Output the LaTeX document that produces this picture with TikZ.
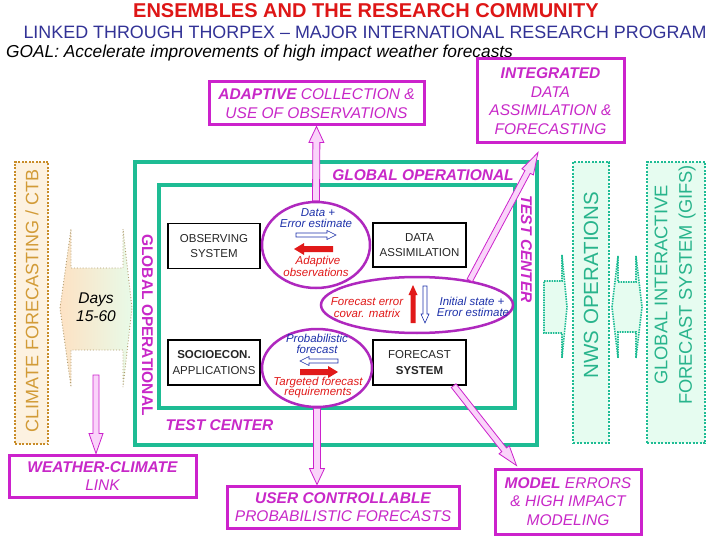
\documentclass[tikz,border=0pt]{standalone}
\usepackage{fontspec}
\setmainfont{Liberation Sans}
\usetikzlibrary{calc,shapes.geometric}

\definecolor{titlered}{RGB}{222,22,22}
\definecolor{subblue}{RGB}{50,50,150}
\definecolor{mag}{RGB}{204,34,204}
\definecolor{magtext}{RGB}{200,40,200}
\definecolor{ellmag}{RGB}{175,40,190}
\definecolor{tealc}{RGB}{30,188,148}
\definecolor{tealtext}{RGB}{40,180,140}
\definecolor{palegreen}{RGB}{230,252,240}
\definecolor{climtext}{RGB}{210,155,55}
\definecolor{climborder}{RGB}{200,140,40}
\definecolor{climfill}{RGB}{253,242,225}
\definecolor{pinkfill}{RGB}{250,212,250}
\definecolor{bluet}{RGB}{30,50,170}
\definecolor{redt}{RGB}{225,25,25}
\definecolor{peach}{RGB}{253,226,196}
\definecolor{mint}{RGB}{232,250,232}
\definecolor{daysline}{RGB}{175,155,110}

\newcommand\fsz[2]{\fontsize{#1}{#2}\selectfont}
% fat arrow polygon: #1 style, #2 from, #3 to, #4 shaft half width, #5 head half width, #6 head length
\newcommand\fatarrow[6]{%
  \path (#3) coordinate (fat) (#2) coordinate (fas);
  \path ($(fat)!#6pt!(fas)$) coordinate (fah);
  \path[#1] ($(fas)!#4pt!90:(fat)$) -- ($(fah)!#4pt!-90:(fas)$) -- ($(fah)!#5pt!-90:(fas)$)
    -- (fat) -- ($(fah)!#5pt!90:(fas)$) -- ($(fah)!#4pt!90:(fas)$) -- ($(fas)!#4pt!-90:(fat)$) -- cycle;
}

\tikzset{
  magbox/.style={draw=mag, line width=3pt, fill=white, text=magtext, font=\itshape\fsz{15.5}{18.5}, align=center, inner sep=0pt},
  blkbox/.style={draw=black, line width=1.3pt, fill=white, text=black!85, font=\fsz{11.5}{15.5}, align=center, inner sep=0pt, minimum width=92pt, minimum height=45pt},
  ell/.style={ellipse, draw=ellmag, line width=2.5pt, inner sep=0pt},
  bluelbl/.style={text=bluet, font=\itshape\fsz{11.5}{12}, inner sep=0pt},
  redlbl/.style={text=redt, font=\itshape\fsz{11.5}{12}, inner sep=0pt},
  fatmag/.style={draw=mag, line width=0.8pt, fill=pinkfill},
  hollowarr/.style={draw=bluet, fill=white, line width=0.6pt},
  solidred/.style={fill=redt, draw=none},
  framelbl/.style={text=magtext, font=\bfseries\itshape\fsz{15.5}{18}, inner sep=0pt},
  tealframe/.style={draw=tealc, line width=4pt},
  dotbox/.style={dash pattern=on 2pt off 1.5pt, line width=2pt, inner sep=0pt},
}

\begin{document}
\begin{tikzpicture}[x=1pt, y=-1pt]
\useasboundingbox (0,0) rectangle (720,540);
\fill[white] (0,0) rectangle (720,540);

% headings
\node[font=\bfseries\fsz{20}{24}, text=titlered] (title) at (366,11) {ENSEMBLES AND THE RESEARCH COMMUNITY};
\node[font=\fsz{17.9}{21}, text=subblue] (sub) at (365,32.5) {LINKED THROUGH THORPEX – MAJOR INTERNATIONAL RESEARCH PROGRAM};
\node[font=\itshape\fsz{17.3}{20}, anchor=west, inner sep=0pt] (goal) at (6,53) {GOAL: Accelerate improvements of high impact weather forecasts};

% climate box
\node[dotbox, draw=climborder, fill=climfill, minimum width=33pt, minimum height=282pt] (clim) at (31.5,303) {};
\node[rotate=90, text=climtext, font=\fsz{18}{20}] (climtxt) at (32,301) {CLIMATE FORECASTING / CTB};

% days double arrow
\path[draw=daysline, line width=0.9pt, dotted, left color=peach, right color=mint]
  (60,308) -- (71,229) -- (71,268) -- (123,268) -- (123,229) -- (132,308) -- (123,387)
  -- (123,350) -- (71,350) -- (71,387) -- cycle;
\node[font=\itshape\fsz{15.5}{18}, align=center] (days) at (96,307.5) {Days\\15-60};

% right side boxes and small arrows
\path[draw=tealc, dash pattern=on 1.5pt off 1pt, line width=1.6pt, fill=palegreen]
  (544,281) -- (562,281) -- (562,255) -- (567,307) -- (562,358) -- (562,333) -- (544,333) -- cycle;
\path[draw=tealc, dash pattern=on 1.5pt off 1pt, line width=1.6pt, fill=palegreen]
  (612,307) -- (618,256) -- (618,282) -- (636,282) -- (636,256) -- (642,307) -- (636,358)
  -- (636,332) -- (618,332) -- (618,358) -- cycle;
\node[dotbox, draw=tealc, fill=palegreen, minimum width=36pt, minimum height=281pt] (nws) at (591,302.5) {};
\node[rotate=90, text=tealtext, font=\fsz{20.5}{22}] (nwstxt) at (591,285) {NWS OPERATIONS};
\node[dotbox, draw=tealc, fill=palegreen, minimum width=58pt, minimum height=281pt] (gifs) at (676,302.5) {};
\node[rotate=90, text=tealtext, font=\fsz{18.3}{24.5}, align=center] (gifstxt) at (675,285) {GLOBAL INTERACTIVE\\FORECAST SYSTEM (GIFS)};

% test center frames
\draw[tealframe, fill=white] (135,162) rectangle (537,445);
\draw[tealframe] (159,185) rectangle (515,408);
\node[framelbl] (golbl) at (423,175) {GLOBAL OPERATIONAL};
\node[framelbl, rotate=-90] (tclbl) at (526.5,249) {TEST CENTER};
\node[framelbl, font=\bfseries\fsz{15.5}{18}, rotate=-90] (golbl2) at (147.5,325) {GLOBAL OPERATIONAL};
\node[framelbl] (tclbl2) at (219.5,425) {TEST CENTER};

% inner boxes
\node[blkbox] (obs) at (214,246) {OBSERVING\\SYSTEM};
\node[blkbox] (soc) at (214,362.5) {\textbf{SOCIOECON.}\\APPLICATIONS};
\node[blkbox, minimum width=93pt, minimum height=44pt] (da) at (419.5,245) {DATA\\ASSIMILATION};
\node[blkbox, minimum width=93pt] (fc) at (419.5,362.5) {FORECAST\\\textbf{SYSTEM}};

% ellipses
\node[ell, minimum width=108pt, minimum height=86pt] (e1) at (316,245) {};
\node[ell, minimum width=110pt, minimum height=78pt] (e2) at (317,368) {};
\node[ell, minimum width=192pt, minimum height=56pt] (e3) at (417,305) {};

% ellipse 1 contents
\node[bluelbl] (t1a) at (318,213) {Data +};
\node[bluelbl] (t1b) at (316,223.5) {Error estimate};
\coordinate (a1s) at (296,235); \coordinate (a1t) at (336,235);
\fatarrow{hollowarr}{a1s}{a1t}{2}{4.5}{9}
\coordinate (a2s) at (333,249); \coordinate (a2t) at (294,249);
\fatarrow{solidred}{a2s}{a2t}{3}{6}{10}
\node[redlbl] (t1c) at (318,262) {Adaptive};
\node[redlbl] (t1d) at (316,272) {observations};

% ellipse 2 contents
\node[bluelbl] (t2a) at (317,338.5) {Probabilistic};
\node[bluelbl] (t2b) at (317,349) {forecast};
\coordinate (a3s) at (338,361); \coordinate (a3t) at (300,361);
\fatarrow{hollowarr}{a3s}{a3t}{2}{4.5}{9}
\coordinate (a4s) at (300,372); \coordinate (a4t) at (338,372);
\fatarrow{solidred}{a4s}{a4t}{3}{6}{10}
\node[redlbl] (t2c) at (318,383) {Targeted forecast};
\node[redlbl] (t2d) at (318,393) {requirements};

% ellipse 3 contents
\node[redlbl] (t3a) at (367,302) {Forecast error};
\node[redlbl] (t3b) at (367,313) {covar. matrix};
\coordinate (a5s) at (413,323); \coordinate (a5t) at (413,285);
\fatarrow{solidred}{a5s}{a5t}{2.5}{4.5}{10}
\coordinate (a6s) at (425,286); \coordinate (a6t) at (425,323);
\fatarrow{hollowarr}{a6s}{a6t}{2}{4}{9}
\node[bluelbl] (t3c) at (472,301) {Initial state +};
\node[bluelbl] (t3d) at (473,312) {Error estimate};

% outer magenta boxes
\node[magbox, minimum width=215pt, minimum height=43pt] (adapt) at (316.5,103.5) {\textbf{ADAPTIVE} COLLECTION \&\\USE OF OBSERVATIONS};
\node[magbox, minimum width=147pt, minimum height=84pt] (integ) at (550.5,101) {\textbf{INTEGRATED}\\DATA\\ASSIMILATION \&\\FORECASTING};
\node[magbox, minimum width=187pt, minimum height=42pt] (weather) at (102.5,476) {\textbf{WEATHER-CLIMATE}\\LINK};
\node[magbox, minimum width=232pt, minimum height=42pt] (user) at (343,507) {\textbf{USER CONTROLLABLE}\\PROBABILISTIC FORECASTS};
\node[magbox, minimum width=146pt, minimum height=65pt] (model) at (568,501.5) {\textbf{MODEL} ERRORS\\\& HIGH IMPACT\\MODELING};

% big hollow arrows
\fatarrow{fatmag}{e1.north}{adapt.south}{3.5}{7.5}{16}
\coordinate (utop) at (e2.south |- user.north);
\fatarrow{fatmag}{e2.south}{utop}{3.5}{7.5}{16}
\coordinate (fcs) at ($(fc.south east)+(-13,0)$);
\coordinate (mtop) at ($(model.north west)+(23,-2)$);
\fatarrow{fatmag}{fcs}{mtop}{3}{6.5}{20}
\coordinate (itip) at ($(integ.south)+(-12.5,8)$);
\fatarrow{fatmag}{e3.25}{itip}{3}{6.5}{22}
\coordinate (dstart) at (96,375);
\coordinate (wtop) at ($(weather.north)+(-6.5,0)$);
\fatarrow{fatmag}{dstart}{wtop}{3}{7}{20}
\end{tikzpicture}
\end{document}
